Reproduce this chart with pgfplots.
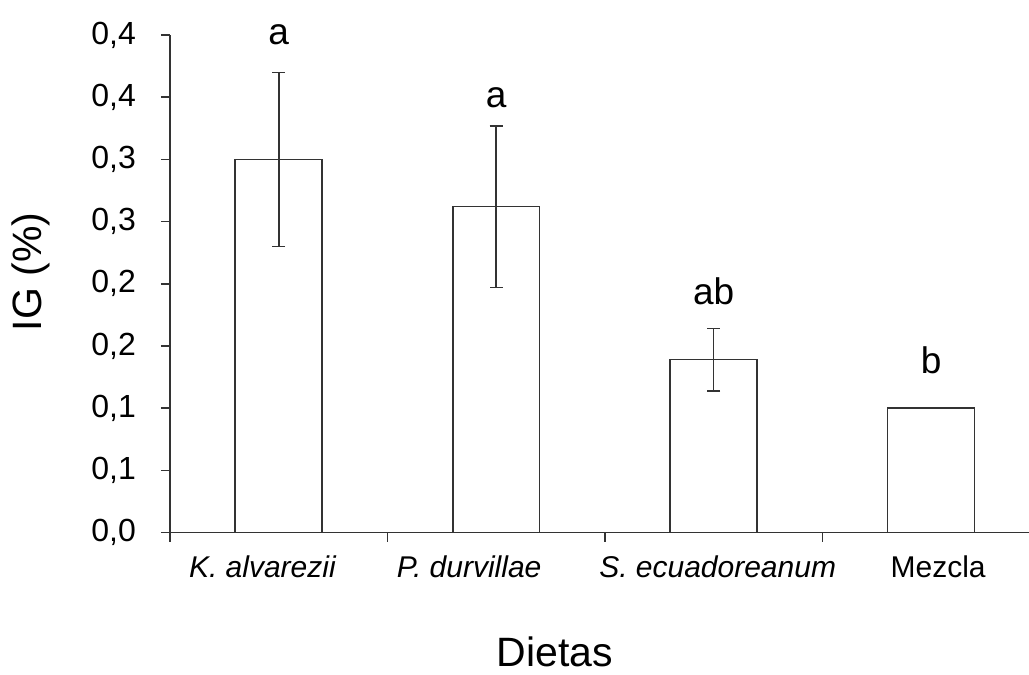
\documentclass[border=0pt]{standalone}
\usepackage{fontspec}
\setmainfont{Liberation Sans}
\usepackage{pgfplots}
\pgfplotsset{compat=1.18}
\usepackage{pgfplotstable}

% Growth index per diet: mean and standard error
\pgfplotstableread{
x  y      err
0  0.300  0.070
1  0.262  0.065
2  0.139  0.025
3  0.100  0.000
}\igdata

\definecolor{axisgray}{RGB}{51,51,51}

\begin{document}
\begin{tikzpicture}
\begin{axis}[
  at={(0,0)}, anchor=south west,
  scale only axis, width=429.5pt, height=248.8pt,
  xmin=-0.5, xmax=3.45, ymin=0, ymax=0.4,
  clip=false,
  axis lines*=left,
  axis line style={-, axisgray, line width=0.8pt},
  tick align=outside,
  major tick length=4.5pt,
  tick style={axisgray, line width=0.8pt},
  ytick={0,0.05,0.1,0.15,0.2,0.25,0.3,0.35,0.4},
  yticklabels={{0,0},{0,1},{0,1},{0,2},{0,2},{0,3},{0,3},{0,4},{0,4}},
  yticklabel style={font=\fontsize{16}{19}\selectfont, xshift=-9pt},
  % category boundaries carry the tick marks, category centres the names
  xtick={-0.5,0.5,1.5,2.5},
  xticklabels={{},{},{},{}},
  extra x ticks={0,1,2,3},
  extra x tick labels={\textit{K. alvarezii}\hspace*{16pt},
    \textit{P. durvillae}\hspace*{27pt},
    \hspace*{4pt}\textit{S. ecuadoreanum},
    \hspace*{7pt}Mezcla},
  extra x tick style={major tick length=0pt,
    xticklabel style={font=\fontsize{15}{18}\selectfont, yshift=-8pt}},
  xlabel={Dietas},
  ylabel={IG (\%)},
  xlabel style={at={(axis description cs:0.448,-0.24)}, anchor=center,
    font=\fontsize{20.5}{24}\selectfont},
  ylabel style={at={(axis description cs:-0.162,0.524)}, anchor=center,
    font=\fontsize{20.5}{24}\selectfont},
  ybar, bar width=0.4,
]
\addplot[fill=white, draw=axisgray, line width=0.8pt,
  error bars/.cd, y dir=both, y explicit,
  error bar style={axisgray, line width=0.8pt},
  error mark options={rotate=90, mark size=3.25pt, axisgray, line width=0.8pt}]
  table[x=x, y=y, y error=err] {\igdata};

\node[anchor=base, font=\fontsize{18.5}{22}\selectfont] at (axis cs:0,0.392) {a};
\node[anchor=base, font=\fontsize{18.5}{22}\selectfont] at (axis cs:1,0.342) {a};
\node[anchor=base, font=\fontsize{18.5}{22}\selectfont] at (axis cs:2,0.183) {ab};
\node[anchor=base, font=\fontsize{18.5}{22}\selectfont] at (axis cs:3,0.128) {b};
\end{axis}
\pgfresetboundingbox
\useasboundingbox (-85pt,-71.2pt) rectangle (429.5pt,266.3pt);
\end{tikzpicture}
\end{document}
